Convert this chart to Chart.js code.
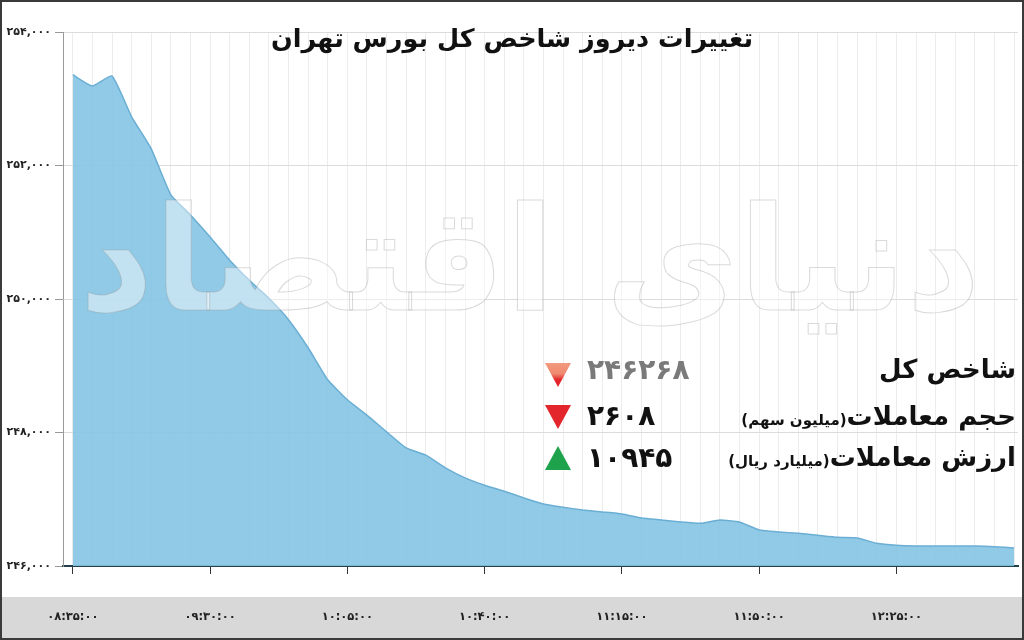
<!DOCTYPE html>
<html lang="fa">
<head>
<meta charset="utf-8">
<title>تغییرات دیروز شاخص کل بورس تهران</title>
<script src="https://cdn.jsdelivr.net/npm/chart.js@4.4.1/dist/chart.umd.min.js"></script>
<style>
  html, body { margin: 0; padding: 0; background: #fff; }
  #wrap { position: relative; width: 1024px; height: 640px; overflow: hidden; font-family: "DejaVu Sans", sans-serif; }
  #chart { position: absolute; left: 0; top: 0; }
  #frame { position: absolute; left: 0; top: 0; width: 1020px; height: 636px; border: 2px solid #3a3a3a; pointer-events: none; }
  #title { position: absolute; left: 0; width: 1024px; top: 23px; text-align: center; direction: rtl;
           font-weight: bold; font-size: 25.5px; color: #111; }
  #mark { position: absolute; left: 60px; top: 175px; width: 940px; text-align: center; direction: rtl; white-space: nowrap;
          font-weight: bold; font-size: 145px; color: rgba(255,255,255,0.45);
          -webkit-text-stroke: 1px rgba(150,150,150,0.35);
          pointer-events: none; }
  .row { position: absolute; left: 540px; width: 480px; height: 40px; }
  .lbl { position: absolute; right: 4px; direction: rtl; white-space: nowrap; font-weight: bold; font-size: 26px; color: #111; }
  .lbl small { font-size: 15px; font-weight: bold; }
  .val { position: absolute; left: 47px; font-weight: bold; font-size: 28px; letter-spacing: 2px; color: #111; direction: ltr; }
  .tri { position: absolute; left: 5px; width: 26px; height: 24px; }
  .down { clip-path: polygon(0 0, 100% 0, 50% 100%); background: #e3262b; }
  .down.soft { background: linear-gradient(#f29a80 0%, #f08a70 45%, #e3262b 70%); }
  .up { clip-path: polygon(50% 0, 100% 100%, 0 100%); background: #1ea24b; }
</style>
</head>
<body>
<div id="wrap">
  <canvas id="chart" width="1024" height="640"></canvas>
  <div id="mark">دنیای اقتصاد</div>
  <div id="title">تغییرات دیروز شاخص کل بورس تهران</div>
  <div class="row" style="top:354px">
    <div class="tri down soft" style="top:9px"></div>
    <div class="val" style="color:#7a7a7a;top:-1px">۲۴۶۲۶۸</div>
    <div class="lbl" style="top:0px">شاخص کل</div>
  </div>
  <div class="row" style="top:400px">
    <div class="tri down" style="top:5px"></div>
    <div class="val" style="top:-1px">۲۶۰۸</div>
    <div class="lbl" style="top:1px">حجم معاملات<small>(میلیون سهم)</small></div>
  </div>
  <div class="row" style="top:441px">
    <div class="tri up" style="top:5px"></div>
    <div class="val" style="top:0px">۱۰۹۴۵</div>
    <div class="lbl" style="top:1px">ارزش معاملات<small>(میلیارد ریال)</small></div>
  </div>
  <div id="frame"></div>
</div>
<script>
// tick labels on the time axis, one every 7 samples
let xTickLabels = ['۰۸:۳۵:۰۰', '۰۹:۳۰:۰۰', '۱۰:۰۵:۰۰', '۱۰:۴۰:۰۰', '۱۱:۱۵:۰۰', '۱۱:۵۰:۰۰', '۱۲:۲۵:۰۰'];
let samplesPerTick = 7;

// index value
let indexValues = [
    253360, 253190, 253340, 252730, 252250, 251560, 251260,
    250930, 250580, 250280, 250010, 249690, 249270, 248790,
    248490, 248260, 248010, 247770, 247660, 247470, 247320,
    247210, 247120, 247020, 246930, 246880, 246840, 246810,
    246780, 246720, 246690, 246660, 246640, 246690, 246660,
    246540, 246510, 246490, 246460, 246430, 246420, 246340,
    246310, 246300, 246300, 246300, 246300, 246290, 246268
];

let yTicks = [246000, 248000, 250000, 252000, 254000];

let faDigits = ['۰', '۱', '۲', '۳', '۴', '۵', '۶', '۷', '۸', '۹'];
function toFa(str) {
    return String(str).replace(/[0-9]/g, d => faDigits[+d]);
}

let bgPlugin = {
    id: 'bg',
    beforeDraw: function(chart) {
        let c = chart.ctx;
        c.save();
        c.fillStyle = '#ffffff';
        c.fillRect(0, 0, chart.width, chart.height);
        c.fillStyle = '#d8d8d8';
        c.fillRect(0, 597, chart.width, 43);
        c.restore();
    }
};

let ctx = document.getElementById('chart').getContext('2d');
let myChart = new Chart(ctx, {
    type: 'line',
    data: {
        datasets: [{
            data: indexValues.map((v, i) => ({ x: i, y: v })),
            borderColor: '#6aaed4',
            borderWidth: 1.5,
            backgroundColor: 'rgba(132,196,228,0.9)',
            fill: 'start',
            pointRadius: 0,
            tension: 0.15
        }]
    },
    options: {
        responsive: false,
        animation: false,
        layout: { padding: { left: 2, top: 32, right: 6, bottom: 0 } },
        plugins: {
            legend: { display: false },
            tooltip: { enabled: false }
        },
        scales: {
            x: {
                type: 'linear',
                min: -0.5,
                max: 48.2,
                afterBuildTicks: function(scale) {
                    scale.ticks = indexValues.map((v, i) => ({ value: i }));
                },
                afterFit: function(scale) {
                    scale.height = 74;
                    scale.paddingLeft = 0;
                    scale.paddingRight = 0;
                },
                ticks: {
                    autoSkip: false,
                    maxRotation: 0,
                    padding: 36,
                    color: '#222',
                    font: { family: 'DejaVu Sans', size: 11.5, weight: 'bold' },
                    callback: function(v) {
                        return v % samplesPerTick === 0 ? xTickLabels[v / samplesPerTick] : '';
                    }
                },
                grid: {
                    color: '#ececec',
                    tickLength: 8,
                    tickColor: c => (c.tick && c.tick.value % samplesPerTick === 0) ? '#333' : 'rgba(0,0,0,0)'
                },
                border: { color: '#24404d', width: 2 }
            },
            y: {
                min: 246000,
                max: 254000,
                afterBuildTicks: function(scale) {
                    scale.ticks = yTicks.map(v => ({ value: v }));
                },
                afterFit: function(scale) { scale.width = 61; },
                ticks: {
                    padding: 4,
                    color: '#222',
                    font: { family: 'DejaVu Sans', size: 11, weight: 'bold' },
                    callback: v => toFa(v.toLocaleString('en-US'))
                },
                grid: { color: '#dcdcdc', tickLength: 8, tickColor: '#999' },
                border: { color: '#9a9a9a', width: 1 }
            }
        }
    },
    plugins: [bgPlugin]
});
</script>
</body>
</html>
